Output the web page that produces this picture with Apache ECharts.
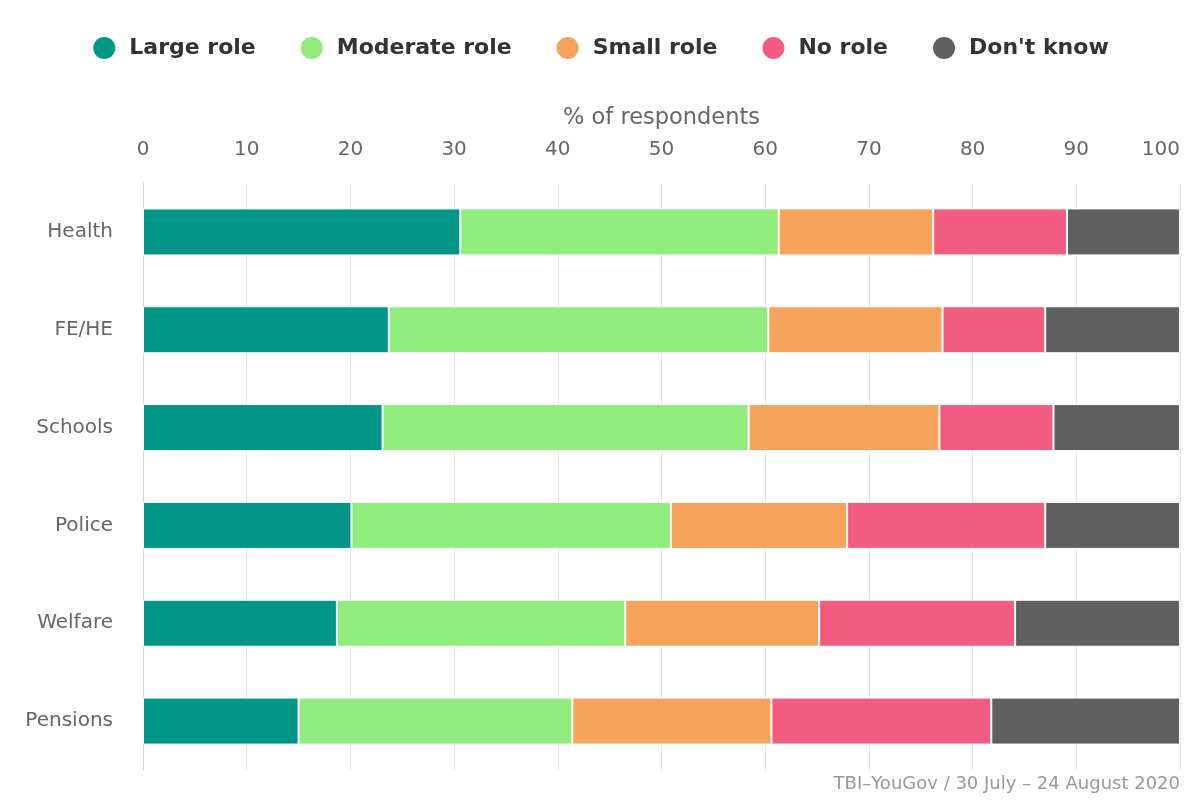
<!DOCTYPE html>
<html><head><meta charset="utf-8">
<script src="https://cdn.jsdelivr.net/npm/echarts@6/dist/echarts.min.js"></script>
<style>html,body{margin:0;padding:0;background:#fff}#c{width:1200px;height:800px}</style>
</head><body><div id="c"></div>
<script>
const categories = ["Health", "FE/HE", "Schools", "Police", "Welfare", "Pensions"];
const seriesNames = ["Large role", "Moderate role", "Small role", "No role", "Don't know"];
const largeRole = [30.6, 23.7, 23.1, 20.1, 18.7, 15.0];
const moderateRole = [30.7, 36.6, 35.3, 30.8, 27.8, 26.4];
const smallRole = [14.9, 16.8, 18.4, 17.0, 18.7, 19.2];
const noRole = [12.9, 9.9, 11.0, 19.1, 18.9, 21.2];
const dontKnow = [10.9, 13.0, 12.2, 13.0, 15.9, 18.2];
const colors = ["#009688", "#90ed7d", "#f7a35c", "#f15c80", "#606060"];
const values = [largeRole, moderateRole, smallRole, noRole, dontKnow];

const chart = echarts.init(document.getElementById('c'));
const font = "DejaVu Sans";
chart.setOption({
  animation: false,
  textStyle: { fontFamily: font },
  color: colors,
  legend: {
    top: 30, left: 'center', itemWidth: 24, itemHeight: 24, itemGap: 43,
    icon: 'circle',
    textStyle: { fontFamily: font, fontSize: 22, fontWeight: 'bold', color: '#333', padding: [0, 0, 0, 8] },
    data: seriesNames
  },
  grid: { left: 143, right: 20, top: 183, bottom: 30, containLabel: false },
  xAxis: {
    type: 'value', position: 'top', min: 0, max: 100, interval: 10,
    name: '% of respondents', nameLocation: 'middle', nameGap: 53,
    nameTextStyle: { fontFamily: font, fontSize: 22.5, color: '#666' },
    axisLine: { show: false }, axisTick: { show: false },
    axisLabel: { fontFamily: font, fontSize: 20, color: '#666', margin: 23, alignMaxLabel: 'right' },
    splitLine: { lineStyle: { color: '#e6e6e6', width: 1 } }
  },
  yAxis: {
    type: 'category', data: categories, inverse: true,
    axisLine: { show: true, lineStyle: { color: '#ccd6eb', width: 1 } },
    axisTick: { show: false },
    axisLabel: { fontFamily: font, fontSize: 20, color: '#666', margin: 30 }
  },
  graphic: [{
    type: 'text', right: 20, bottom: 7,
    style: { text: 'TBI–YouGov / 30 July – 24 August 2020', fontFamily: font, fontSize: 18, fill: '#999', textAlign: 'right' }
  }],
  series: seriesNames.map((n, i) => ({
    name: n, type: 'bar', stack: 'total', data: values[i], barWidth: 47,
    itemStyle: { color: colors[i], borderColor: '#fff', borderWidth: 1 }
  }))
});
</script>
</body></html>
